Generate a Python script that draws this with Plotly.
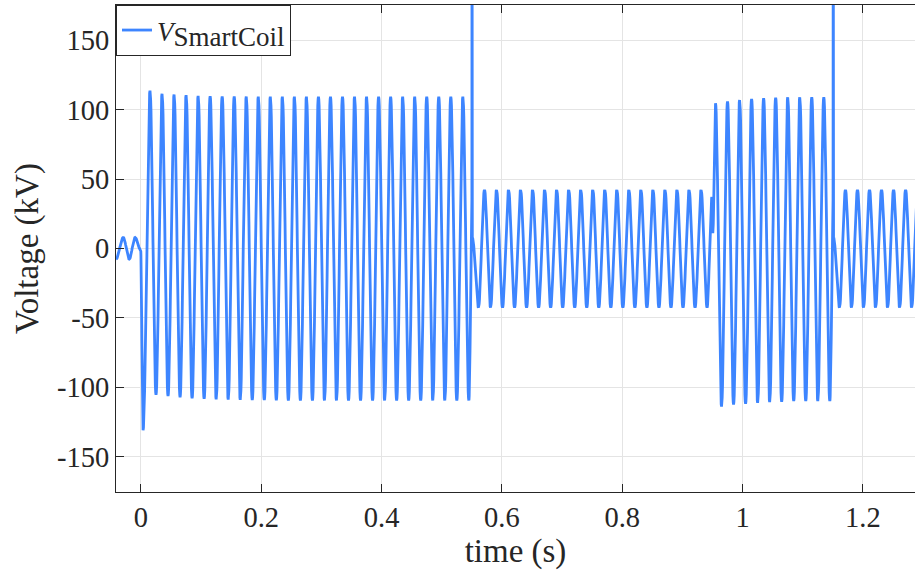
import numpy as np
import plotly.graph_objects as go

# ---------------- data ----------------
PERIOD = 0.02  # 50 Hz mains waveform

# pre-fault oscillation (time s, voltage kV)
pre_t = [-0.0415, -0.0295, -0.0195, -0.0098, -0.0005]
pre_v = [-7.7, 8.0, -7.7, 8.0, -1.0]

# first transient trough at energisation
first_trough_t = 0.0035
first_trough_v = -131.0

# high-voltage interval 1: peaks at 0.015 + k*T, troughs at 0.025 + k*T
seg1_peak_t0 = 0.015
seg1_trough_t0 = 0.025
seg1_peaks = [113.8, 111.5, 111.0, 110.5, 110.0, 109.8, 109.6, 109.5, 109.5,
              109.4, 109.4, 109.4, 109.4, 109.4, 109.4, 109.4, 109.4, 109.4,
              109.4, 109.4, 109.4, 109.4, 109.4, 109.4, 109.4, 109.4, 109.4]
seg1_troughs = [-105.4, -106.4, -107.2, -108.0, -108.4, -108.7, -108.9, -109.1,
                -109.2, -109.3, -109.4, -109.5, -109.5, -109.5, -109.5, -109.5,
                -109.5, -109.5, -109.5, -109.5, -109.5, -109.5, -109.5, -109.5,
                -109.5, -109.5, -109.5]

# switching spike 1 (time, voltage)
spike1_t = [0.5500, 0.5503, 0.5508]
spike1_v = [0.0, 300.0, 8.0]

# low-voltage interval 1: troughs at 0.561 + k*T, peaks at 0.571 + k*T
low1_trough_t0 = 0.561
low1_peak_t0 = 0.571
low1_troughs = [-42.5] * 20
low1_peaks = [42.2] * 19

# re-energisation step
step_t = [0.949, 0.9505]
step_v = [37.0, 11.0]

# high-voltage interval 2
seg2_peak_t0 = 0.955
seg2_trough_t0 = 0.965
seg2_peaks = [104.7, 105.9, 107.0, 107.8, 108.3, 108.7, 109.0, 109.0, 109.0, 109.0]
seg2_troughs = [-113.9, -112.4, -112.0, -111.2, -110.7, -110.4, -110.0, -110.0,
                -110.0, -110.0]

# switching spike 2
spike2_t = [1.1503, 1.1507, 1.1512]
spike2_v = [0.0, 300.0, 8.0]

# low-voltage interval 2
low2_trough_t0 = 1.161
low2_peak_t0 = 1.171
low2_troughs = [-42.5] * 7
low2_peaks = [42.2] * 7

x_ticks = [0, 0.2, 0.4, 0.6, 0.8, 1.0, 1.2]
x_ticktext = ["0", "0.2", "0.4", "0.6", "0.8", "1", "1.2"]
y_ticks = [-150, -100, -50, 0, 50, 100, 150]
y_ticktext = ["-150", "-100", "-50", "0", "50", "100", "150"]

# ---------------- assemble extremum knots ----------------
kt, kv = [], []
kt += pre_t; kv += pre_v
kt.append(first_trough_t); kv.append(first_trough_v)
for k in range(len(seg1_peaks)):
    kt.append(seg1_peak_t0 + k * PERIOD); kv.append(seg1_peaks[k])
    kt.append(seg1_trough_t0 + k * PERIOD); kv.append(seg1_troughs[k])
kt += spike1_t; kv += spike1_v
for k in range(len(low1_troughs)):
    kt.append(low1_trough_t0 + k * PERIOD); kv.append(low1_troughs[k])
    if k < len(low1_peaks):
        kt.append(low1_peak_t0 + k * PERIOD); kv.append(low1_peaks[k])
kt += step_t; kv += step_v
for k in range(len(seg2_peaks)):
    kt.append(seg2_peak_t0 + k * PERIOD); kv.append(seg2_peaks[k])
    kt.append(seg2_trough_t0 + k * PERIOD); kv.append(seg2_troughs[k])
kt += spike2_t; kv += spike2_v
for k in range(len(low2_troughs)):
    kt.append(low2_trough_t0 + k * PERIOD); kv.append(low2_troughs[k])
    kt.append(low2_peak_t0 + k * PERIOD); kv.append(low2_peaks[k])

# draw each half-cycle between consecutive extrema with a sinusoidal arc
xs, ys = [], []
n = 18
s = np.linspace(0.0, 1.0, n, endpoint=False)
w = (1 - np.cos(np.pi * s)) / 2
for i in range(len(kt) - 1):
    t0, t1, v0, v1 = kt[i], kt[i + 1], kv[i], kv[i + 1]
    xs.extend(t0 + (t1 - t0) * s)
    ys.extend(v0 + (v1 - v0) * w)
xs.append(kt[-1]); ys.append(kv[-1])

# ---------------- figure ----------------
FONT = "'Liberation Serif', 'Times New Roman', 'DejaVu Serif', serif"
INK = "#262626"
BLUE = "#3d85ff"

fig = go.Figure()
fig.add_trace(go.Scatter(
    x=xs, y=ys, mode="lines",
    line=dict(color=BLUE, width=2.8),
    name='<i>V</i><sub><span style="font-size:27px">SmartCoil</span></sub>',
    showlegend=True,
))

fig.update_layout(
    width=915, height=575,
    margin=dict(l=116, r=0, t=5, b=83),
    paper_bgcolor="white", plot_bgcolor="white",
    font=dict(family=FONT, color=INK, size=28),
    showlegend=True,
    legend=dict(
        x=0, y=1, xanchor="left", yanchor="top",
        bgcolor="white", bordercolor=INK, borderwidth=1,
        font=dict(family=FONT, size=27, color=INK),
        itemwidth=30, tracegroupgap=0,
    ),
    xaxis=dict(
        range=[-0.0415, 1.2866],
        tickmode="array", tickvals=x_ticks, ticktext=x_ticktext,
        ticks="inside", ticklen=8, tickcolor=INK, tickwidth=1,
        showline=True, linecolor=INK, linewidth=1, mirror="ticks",
        showgrid=True, gridcolor="#e4e4e4", gridwidth=1, zeroline=False,
        tickfont=dict(family=FONT, size=28.5, color=INK),
        title=dict(text="time (s)", font=dict(family=FONT, size=33, color=INK), standoff=5),
    ),
    yaxis=dict(
        range=[-175.5, 175.5],
        tickmode="array", tickvals=y_ticks, ticktext=y_ticktext,
        ticks="inside", ticklen=8, tickcolor=INK, tickwidth=1,
        showline=True, linecolor=INK, linewidth=1, mirror=False,
        showgrid=True, gridcolor="#e4e4e4", gridwidth=1, zeroline=False,
        tickfont=dict(family=FONT, size=28.5, color=INK),
        title=dict(text="Voltage (kV)", font=dict(family=FONT, size=33, color=INK), standoff=8),
    ),
)

fig.write_html("out.html")
